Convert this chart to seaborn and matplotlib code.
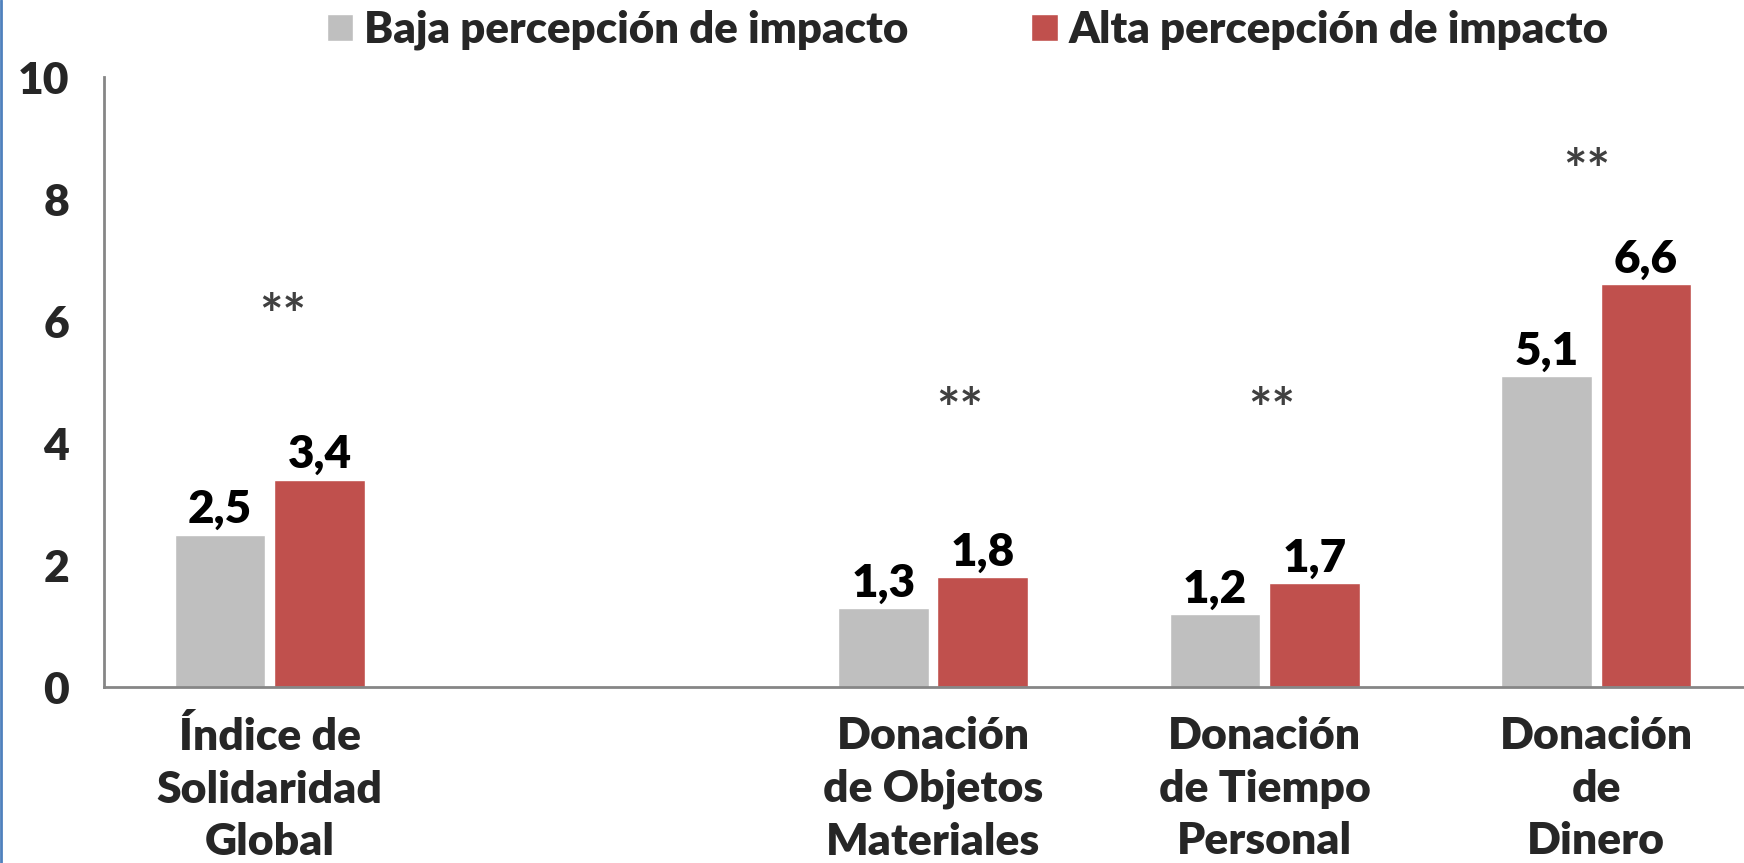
import pandas as pd
import matplotlib.pyplot as plt
import seaborn as sns
from matplotlib.lines import Line2D

# Data
categories = ["Índice de\nSolidaridad\nGlobal", "",
              "Donación\nde Objetos\nMateriales",
              "Donación\nde Tiempo\nPersonal",
              "Donación\nde\nDinero"]
baja = [2.5, 1.3, 1.2, 5.1]
alta = [3.4, 1.8, 1.7, 6.6]
cat_with_data = [categories[0], categories[2], categories[3], categories[4]]
series = ["Baja percepción de impacto", "Alta percepción de impacto"]
yticks = [0, 2, 4, 6, 8, 10]
star_pos = [(0.04, 6.05), (2.08, 4.51), (3.02, 4.51), (3.97, 8.42)]

df = pd.DataFrame({
    "cat": cat_with_data * 2,
    "grupo": [series[0]] * 4 + [series[1]] * 4,
    "valor": baja + alta,
})

sns.set_style("white")
plt.rcParams['font.family'] = ['Lato', 'DejaVu Sans']
W = 'heavy'

fig = plt.figure(figsize=(17.44, 8.63), dpi=100)
ax = fig.add_axes([104 / 1744, 1 - 687 / 863, (1762 - 104) / 1744, 610 / 863])

sns.barplot(data=df, x="cat", y="valor", hue="grupo", order=categories,
            hue_order=series, palette=["#BFBFBF", "#C0504D"], saturation=1,
            width=0.6, gap=0.09, ax=ax, legend=True)

# value labels
for cont in ax.containers:
    ax.bar_label(cont, labels=[f"{v:.1f}".replace('.', ',') for v in cont.datavalues],
                 padding=3, fontsize=33, fontweight=W, color='black')

# significance stars
for x, y in star_pos:
    ax.text(x, y, "**", ha='center', va='center', fontsize=40,
            fontweight='bold', color='#404040')

ax.set_ylim(0, 10)
ax.set_yticks(yticks, labels=[str(t) for t in yticks], fontsize=32, fontweight=W)
ax.set_xlim(-0.5, 4.5)
ax.set_xlabel("")
ax.set_ylabel("")

# Excel-like ticks: marks between categories, labels centred
ax.set_xticks([-0.5, 0.5, 1.5, 2.5, 3.5], minor=False)
ax.set_xticklabels([])
ax.set_xticks(range(5), minor=True)
ax.set_xticklabels(categories, minor=True, fontsize=32, fontweight=W,
                   linespacing=1.38)
ax.tick_params(axis='x', which='minor', length=0, pad=21)
ax.tick_params(axis='x', which='major', length=9, width=1.5, color='#868686', direction='out')
ax.tick_params(axis='y', length=9, width=1.5, color='#868686', direction='out', pad=16)

for s in ['top', 'right']:
    ax.spines[s].set_visible(False)
for s in ['left', 'bottom']:
    ax.spines[s].set_color('#868686')
    ax.spines[s].set_linewidth(2)

# legend
handles, labels = ax.get_legend_handles_labels()
ax.legend_.remove()
fig.legend(handles, labels, loc='center', bbox_to_anchor=(0.555, 0.965), ncol=2,
           frameon=False, handlelength=0.6, handleheight=0.6,
           handletextpad=0.25, columnspacing=2.8,
           prop={'weight': W, 'size': 31.5})

# blue border at left edge
fig.add_artist(Line2D([0.0008, 0.0008], [0, 1], color='#4F81BD', linewidth=2,
                      transform=fig.transFigure))

plt.savefig("out.png", dpi=100)
